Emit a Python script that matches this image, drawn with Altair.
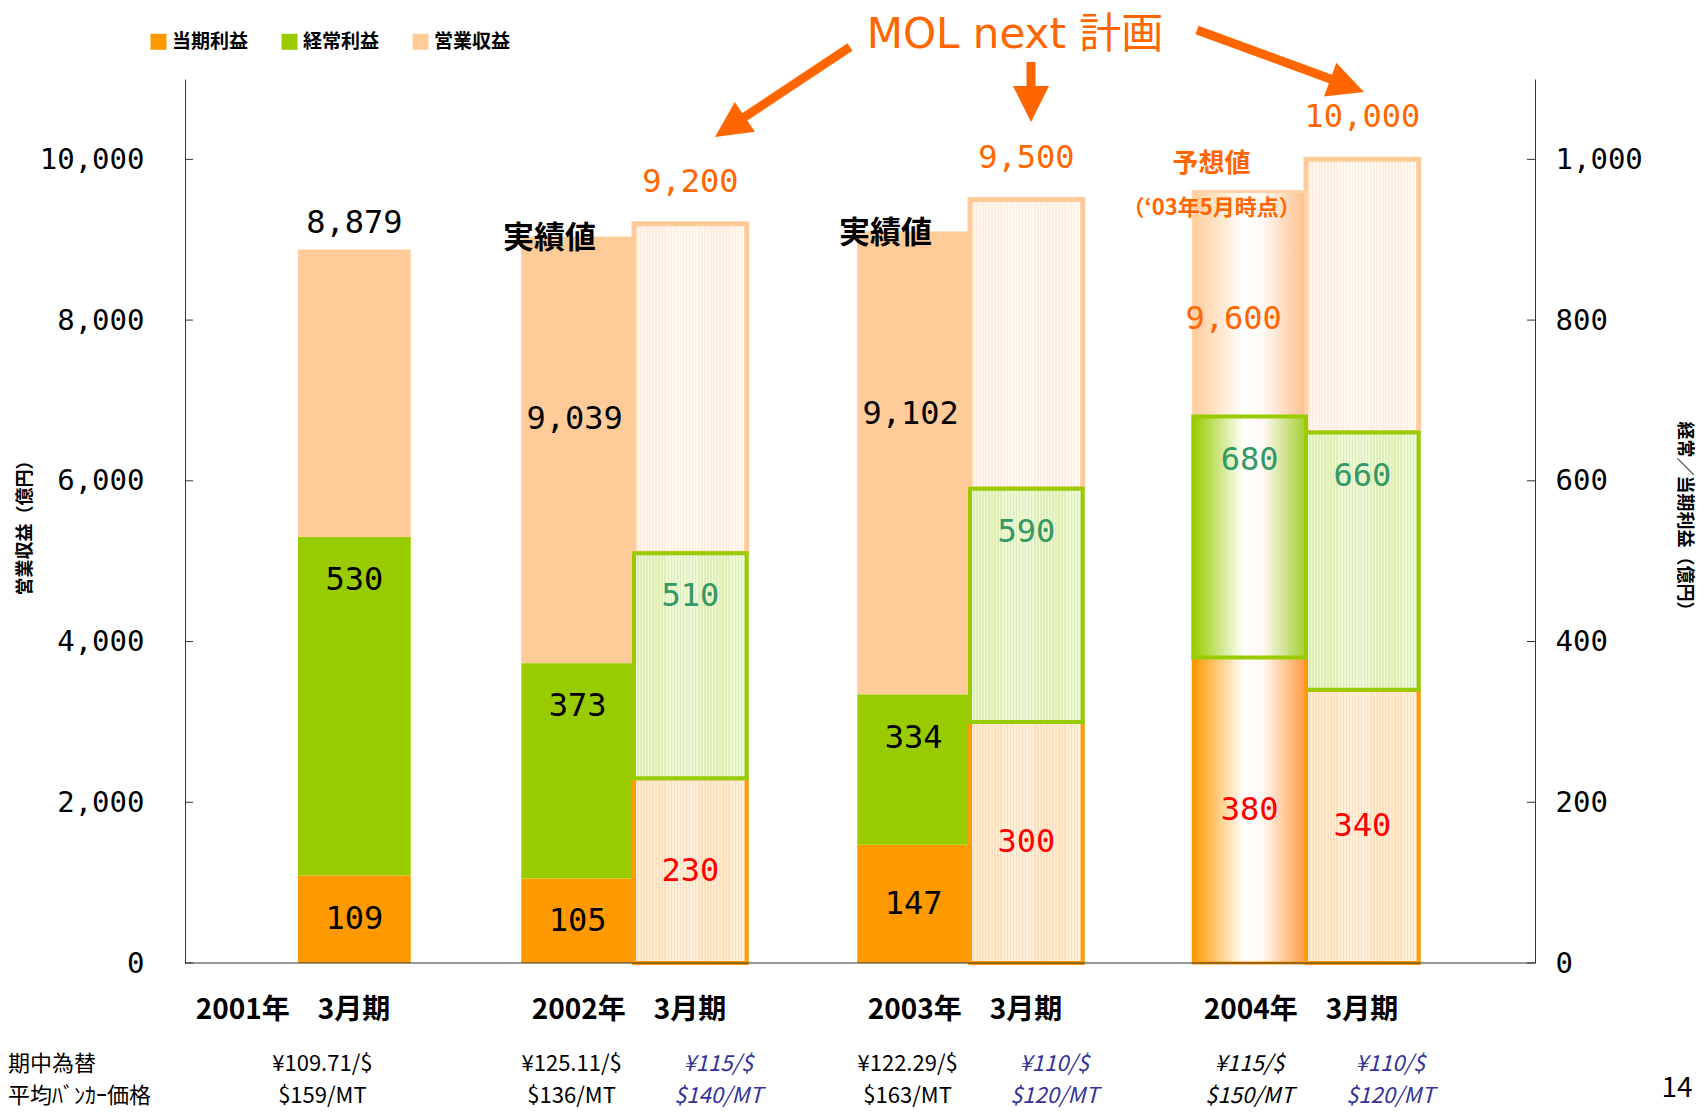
import altair as alt
import pandas as pd

# ---------------- data ----------------
categories = ["2001年　3月期", "2002年　3月期", "2003年　3月期", "2004年　3月期"]
slots = ["左", "右"]
bar_category = [categories[0], categories[1], categories[1], categories[2],
                categories[2], categories[3], categories[3]]
bar_slot = ["右", "左", "右", "左", "右", "左", "右"]
bar_kind = ["実績", "実績", "計画", "実績", "計画", "予想", "計画"]
revenue = [8879, 9039, 9200, 9102, 9500, 9600, 10000]
recurring_profit = [530, 373, 510, 334, 590, 680, 660]
net_profit = [109, 105, 230, 147, 300, 380, 340]
fx_rate = ["¥109.71/$", "¥125.11/$", "¥115/$", "¥122.29/$", "¥110/$", "¥115/$", "¥110/$"]
bunker_price = ["$159/MT", "$136/MT", "$140/MT", "$163/MT", "$120/MT", "$150/MT", "$120/MT"]
series_names = ["当期利益", "経常利益", "営業収益"]
series_colors = ["#FF9900", "#99CC00", "#FFCC99"]
left_ticks = [0, 2000, 4000, 6000, 8000, 10000]
right_ticks = [0, 200, 400, 600, 800, 1000]
row_labels = ["期中為替", "平均ﾊﾞﾝｶｰ価格"]

df = pd.DataFrame({
    "cat": bar_category, "slot": bar_slot, "kind": bar_kind,
    "rev": revenue, "rec": recurring_profit, "net": net_profit,
    "fx": fx_rate, "bunker": bunker_price,
})

JP = "Noto Sans CJK JP"
MONO = "DejaVu Sans Mono"
W, H = 1350, 884
ORANGE_TXT = "#FF6600"
GREEN_TXT = "#339966"
BLUE_TXT = "#333399"
ROW1_Y, ROW2_Y = 985, 1017

x_scale = alt.Scale(domain=categories, range=[-55, 1289], paddingInner=0, paddingOuter=0)
xo_scale = alt.Scale(domain=slots, paddingInner=0, paddingOuter=0.49)
x_axis = alt.Axis(title=None, domain=False, ticks=False, grid=False, labelAngle=0,
                  labelFont=JP, labelFontSize=28, labelFontWeight="bold", labelColor="black",
                  labelPadding=33, labelOffset=-5, labelLimit=500)


def X():
    return alt.X("cat:N", scale=x_scale, axis=x_axis)


def XO():
    return alt.XOffset("slot:N", scale=xo_scale)


left_axis = alt.Axis(orient="left", values=left_ticks, labelExpr="format(datum.value, ',')",
                     ticks=False, grid=False,
                     labelPadding=41, labelFont=MONO, labelFontSize=29, labelColor="black",
                     domainColor="#333333", title="営業収益（億円）", titleFont=JP, titleFontSize=18,
                     titleFontWeight="bold", titleColor="black", titleAngle=270,
                     titleX=-160, titleY=444, titleBaseline="middle")
right_axis = alt.Axis(orient="right", values=right_ticks, labelExpr="format(datum.value, ',')",
                      ticks=False, grid=False,
                      labelPadding=20, labelFont=MONO, labelFontSize=29, labelColor="black",
                      domainColor="#333333", title="経常／当期利益（億円）", titleFont=JP, titleFontSize=18,
                      titleFontWeight="bold", titleColor="black", titleAngle=90,
                      titleX=148, titleY=441, titleBaseline="middle")
left_scale = alt.Scale(domain=[0, 11000], nice=False)
right_scale = alt.Scale(domain=[0, 1100], nice=False)


def YL(f):
    return alt.Y(f + ":Q", scale=left_scale, axis=left_axis)


def YR(f):
    return alt.Y(f + ":Q", scale=right_scale, axis=right_axis)


color_scale = alt.Scale(domain=series_names, range=series_colors)
legend = alt.Legend(title=None, orient="none", legendX=-36, legendY=-47, direction="horizontal",
                    symbolType="square", symbolSize=256, symbolStrokeWidth=0, labelFont=JP,
                    labelFontSize=19, labelFontWeight="bold", labelColor="black",
                    columnPadding=31, labelOffset=4, padding=0)


def stripes(a, b, n=37):
    stops = []
    for k in range(n):
        o0, o1, o2 = k / n, (k + 0.5) / n, min(1.0, (k + 1) / n)
        stops += [alt.GradientStop(color=a, offset=o0), alt.GradientStop(color=a, offset=o1),
                  alt.GradientStop(color=b, offset=o1), alt.GradientStop(color=b, offset=o2)]
    return alt.LinearGradient(gradient="linear", stops=stops, x1=0, x2=1, y1=0, y2=0)


def glow(edge_l, edge_r, mid="#FFFFFF"):
    return alt.LinearGradient(gradient="linear", x1=0, x2=1, y1=0, y2=0, stops=[
        alt.GradientStop(color=edge_l, offset=0), alt.GradientStop(color=mid, offset=0.45),
        alt.GradientStop(color="#FFF8F2", offset=0.62), alt.GradientStop(color=edge_r, offset=1)])


base = alt.Chart(df)
IS_ACT = "datum.kind == '実績'"
IS_PLAN = "datum.kind == '計画'"
IS_FC = "datum.kind == '予想'"

# ---------------- left group (revenue) ----------------
rev_act = base.transform_filter(IS_ACT).transform_calculate(
    rec10="datum.rec * 10", series="'営業収益'").mark_bar().encode(
    x=X(), xOffset=XO(), y=YL("rev"), y2=alt.Y2("rec10:Q"),
    color=alt.Color("series:N", scale=color_scale, legend=legend))
rev_plan = base.transform_filter(IS_PLAN).transform_calculate(rec10="datum.rec * 10").mark_bar(
    fill=stripes("#FFEEDD", "#FFF9F3"), stroke="#FFCC99", strokeWidth=5).encode(
    x=X(), xOffset=XO(), y=YL("rev"), y2=alt.Y2("rec10:Q"))
rev_fc = base.transform_filter(IS_FC).transform_calculate(rec10="datum.rec * 10").mark_bar(
    fill=glow("#FFCC99", "#FCC08C"), stroke="#FFD3AA", strokeWidth=3).encode(
    x=X(), xOffset=XO(), y=YL("rev"), y2=alt.Y2("rec10:Q"))

num = dict(font=MONO, fontSize=32, baseline="middle", align="center")
lab_2001 = base.transform_filter(IS_ACT + " && datum.cat == '" + categories[0] + "'").mark_text(
    dy=-26, color="black", **num).encode(x=X(), xOffset=XO(), y=YL("rev"), text=alt.Text("rev:Q", format=","))
lab_act = base.transform_filter(IS_ACT + " && datum.cat != '" + categories[0] + "'").mark_text(
    dy=182, dx=-3, color="black", **num).encode(x=X(), xOffset=XO(), y=YL("rev"), text=alt.Text("rev:Q", format=","))
lab_plan = base.transform_filter(IS_PLAN).mark_text(dy=-42, color=ORANGE_TXT, **num).encode(
    x=X(), xOffset=XO(), y=YL("rev"), text=alt.Text("rev:Q", format=","))
lab_fc = base.transform_filter(IS_FC).mark_text(dy=127, dx=-16, color=ORANGE_TXT, **num).encode(
    x=X(), xOffset=XO(), y=YL("rev"), text=alt.Text("rev:Q", format=","))

note_act = base.transform_filter(IS_ACT + " && datum.cat != '" + categories[0] + "'").mark_text(
    text="実績値", font=JP, fontSize=31, fontWeight="bold", color="black", dx=-28, dy=2,
    baseline="middle").encode(x=X(), xOffset=XO(), y=YL("rev"))
note_fc1 = base.transform_filter(IS_FC).mark_text(
    text="予想値", font=JP, fontSize=26, fontWeight="bold", color=ORANGE_TXT, dx=-38, dy=-28,
    baseline="middle").encode(x=X(), xOffset=XO(), y=YL("rev"))
note_fc2 = base.transform_filter(IS_FC).mark_text(
    text="（‘03年5月時点）", font=JP, fontSize=22, fontWeight="bold", color=ORANGE_TXT, dx=-38, dy=16,
    baseline="middle").encode(x=X(), xOffset=XO(), y=YL("rev"))

ticks_l = alt.Chart(pd.DataFrame({"v": left_ticks})).mark_rule(color="#333333").encode(
    y=YL("v"), x=alt.value(0), x2=alt.value(8))

left_group = alt.layer(rev_act, rev_plan, rev_fc, lab_2001, lab_act, lab_plan, lab_fc,
                       note_act, note_fc1, note_fc2, ticks_l)

# ---------------- right group (profits) ----------------
net_act = base.transform_filter(IS_ACT).transform_calculate(zero="0", series="'当期利益'").mark_bar().encode(
    x=X(), xOffset=XO(), y=YR("net"), y2=alt.Y2("zero:Q"),
    color=alt.Color("series:N", scale=color_scale, legend=legend))
rec_act = base.transform_filter(IS_ACT).transform_calculate(series="'経常利益'").mark_bar().encode(
    x=X(), xOffset=XO(), y=YR("rec"), y2=alt.Y2("net:Q"),
    color=alt.Color("series:N", scale=color_scale, legend=legend))
net_plan = base.transform_filter(IS_PLAN).transform_calculate(zero="0").mark_bar(
    fill=stripes("#FFE0BC", "#FFF0DE"), stroke="#FF9900", strokeWidth=4).encode(
    x=X(), xOffset=XO(), y=YR("net"), y2=alt.Y2("zero:Q"))
rec_plan = base.transform_filter(IS_PLAN).mark_bar(
    fill=stripes("#DDEFB3", "#EEF7DA"), stroke="#99CC00", strokeWidth=4).encode(
    x=X(), xOffset=XO(), y=YR("rec"), y2=alt.Y2("net:Q"))
net_fc = base.transform_filter(IS_FC).transform_calculate(zero="0").mark_bar(
    fill=glow("#FF9900", "#FF9A40"), stroke="#FF9900", strokeWidth=3).encode(
    x=X(), xOffset=XO(), y=YR("net"), y2=alt.Y2("zero:Q"))
rec_fc = base.transform_filter(IS_FC).mark_bar(
    fill=glow("#99CC00", "#A2CF30", "#FFFFFF"), stroke="#99CC00", strokeWidth=4).encode(
    x=X(), xOffset=XO(), y=YR("rec"), y2=alt.Y2("net:Q"))

rec_lab = base.mark_text(dy=43, **num).encode(
    x=X(), xOffset=XO(), y=YR("rec"), text=alt.Text("rec:Q"),
    color=alt.condition(IS_ACT, alt.value("black"), alt.value(GREEN_TXT)))
net_lab = base.transform_calculate(half="datum.net / 2").mark_text(**num).encode(
    x=X(), xOffset=XO(), y=YR("half"), text=alt.Text("net:Q"),
    color=alt.condition(IS_ACT, alt.value("black"), alt.value("#FF0000")))

ticks_r = alt.Chart(pd.DataFrame({"v": right_ticks})).mark_rule(color="#333333").encode(
    y=YR("v"), x=alt.value(W - 8), x2=alt.value(W))

baseline = alt.Chart(pd.DataFrame({"a": [0]})).mark_rule(color="#333333", strokeWidth=1.2).encode(
    x=alt.value(0), x2=alt.value(W), y=alt.value(H))

# bottom rows (exchange rate / bunker price)
rows = []
for field, ypix in [("fx", ROW1_Y), ("bunker", ROW2_Y)]:
    common = dict(font=JP, fontSize=22, baseline="middle", align="center")
    rows.append(base.transform_filter(IS_ACT + " && datum.cat == '" + categories[0] + "'").mark_text(
        dx=-32, color="black", **common).encode(x=X(), xOffset=XO(), y=alt.value(ypix), text=field + ":N"))
    rows.append(base.transform_filter(IS_ACT + " && datum.cat != '" + categories[0] + "'").mark_text(
        dx=-6, color="black", **common).encode(x=X(), xOffset=XO(), y=alt.value(ypix), text=field + ":N"))
    rows.append(base.transform_filter(IS_PLAN).mark_text(
        dx=28, color=BLUE_TXT, fontStyle="italic", **common).encode(
        x=X(), xOffset=XO(), y=alt.value(ypix), text=field + ":N"))
    rows.append(base.transform_filter(IS_FC).mark_text(
        dx=0, color="black", fontStyle="italic", **common).encode(
        x=X(), xOffset=XO(), y=alt.value(ypix), text=field + ":N"))

row_df = pd.DataFrame({"label": row_labels, "r": [0, 1]})
row_text1 = alt.Chart(row_df).transform_filter("datum.r == 0").mark_text(
    font=JP, fontSize=22, align="left", baseline="middle", color="black").encode(
    x=alt.value(-177), y=alt.value(ROW1_Y), text="label:N")
row_text2 = alt.Chart(row_df).transform_filter("datum.r == 1").mark_text(
    font=JP, fontSize=22, align="left", baseline="middle", color="black").encode(
    x=alt.value(-177), y=alt.value(ROW2_Y), text="label:N")

page_no = alt.Chart(pd.DataFrame({"t": ["14"]})).mark_text(
    font=JP, fontSize=28, align="center", baseline="middle", color="black").encode(
    x=alt.value(1492), y=alt.value(1010), text="t:N")

# title + arrows
title = alt.Chart(pd.DataFrame({"t": ["MOL next 計画"]})).mark_text(
    font="DejaVu Sans, Noto Sans CJK JP, sans-serif", fontSize=42, align="center",
    baseline="alphabetic", color=ORANGE_TXT).encode(
    x=alt.value(830), y=alt.value(-31), text="t:N")

arrow_specs = [
    # tail x, tail y, shaft end x, shaft end y, tip x, tip y, angle
    (665, -32, 555, 41, 530, 58, 236),
    (846, -17, 846, 13, 846, 43, 180),
    (1012, -49, 1151, 2, 1179, 13, 110),
]
arrows = []
one = pd.DataFrame({"a": [0]})
for tx, ty, sx, sy, hx, hy, ang in arrow_specs:
    arrows.append(alt.Chart(one).mark_rule(color=ORANGE_TXT, strokeWidth=9).encode(
        x=alt.value(tx), y=alt.value(ty), x2=alt.value(sx), y2=alt.value(sy)))
    arrows.append(alt.Chart(one).mark_point(
        shape="M0,0L-0.5,1L0.5,1Z", size=5184, filled=True, opacity=1, color=ORANGE_TXT,
        angle=ang, strokeWidth=0).encode(x=alt.value(hx), y=alt.value(hy)))

right_group = alt.layer(net_act, rec_act, net_plan, rec_plan, net_fc, rec_fc, rec_lab, net_lab,
                        ticks_r, baseline, *rows, row_text1, row_text2, page_no, title, *arrows)

chart = alt.layer(left_group, right_group).resolve_scale(y="independent").properties(
    width=W, height=H,
    autosize=alt.AutoSizeParams(type="none"),
    padding={"left": 177, "top": 71, "right": 165, "bottom": 149},
    background="white",
).configure_view(strokeWidth=0)

chart.save("out.html", embed_options={"renderer": "svg", "actions": False})
